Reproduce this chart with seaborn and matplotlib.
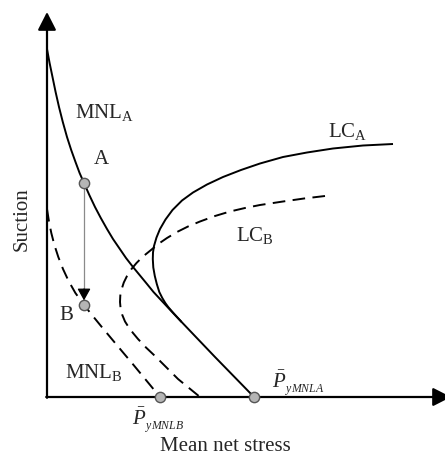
import matplotlib
matplotlib.use("Agg")
import matplotlib.pyplot as plt
import seaborn as sns
import pandas as pd

# ---- data (schematic coordinates) ----
mnl_a_x = [0, 2.6, 5.5, 8.6, 12, 15.8, 20, 24.2, 28.5, 32.6, 37, 42.3, 48, 53.8, 60,
           66, 72.5, 79, 86, 93, 100, 106.5, 113, 120, 127, 147, 168, 187.5, 207]
mnl_a_y = [348, 334, 320, 305, 290, 275, 260, 247, 235, 224, 214, 202, 190, 179, 168,
           158, 148.5, 139, 130, 121.5, 113, 105, 98, 90.5, 83, 62, 40, 20, 0]

lc_a_x = [346, 316, 286, 260, 236, 213, 194, 176, 160, 146, 135, 125.5, 118.5, 113,
          109.5, 107, 106, 105.8, 106.3, 107.8, 109.8, 112.3, 115.3, 118.3, 121.2,
          125.5, 130, 134.6]
lc_a_y = [253, 251.5, 248.5, 244.5, 240, 233.5, 227, 220, 212.5, 204.5, 196.5, 187, 177.5,
          168, 159.5, 151, 144.5, 138, 129.5, 121, 113, 105, 99, 94, 90, 85, 80, 75]

lc_b_x = [278, 257, 236, 213, 198, 183, 168, 153, 141, 130, 120, 112, 104, 96, 89.5,
          84.5, 80, 76.8, 74.7, 73.3, 73, 73.6, 75.3, 78, 81.5, 86, 91, 99, 108, 119.5,
          131, 142, 153]
lc_b_y = [201, 198.5, 195.5, 192, 189, 185.5, 181, 175.5, 170.5, 165, 159, 153.5, 147,
          140.5, 134, 128, 121, 114.5, 108, 101.5, 95, 88.5, 82, 75.5, 70, 64, 58, 49.5,
          41, 29.5, 18, 9, 0]

mnl_b_x = [0, 1.9, 4.3, 7.4, 11.3, 16, 21.6, 28.4, 37, 46.2, 55.6, 65.2, 74.8, 84.5,
           94, 103.5, 113]
mnl_b_y = [188, 176, 164, 152, 140, 128, 116, 104, 92, 80.5, 69, 57.5, 46, 34.5,
           23, 11.5, 0]

point_names = ["A", "B", "PyMNLB", "PyMNLA"]
point_x = [37, 37, 113, 207]
point_y = [214, 92, 0, 0]

x_axis_end = 404
y_axis_end = 385

# ---- style ----
sns.set_theme(style="white")
plt.rcParams["font.family"] = ["Liberation Serif", "DejaVu Serif"]
plt.rcParams["mathtext.fontset"] = "custom"
plt.rcParams["mathtext.rm"] = "Liberation Serif"
plt.rcParams["mathtext.it"] = "Liberation Serif:italic"
plt.rcParams["mathtext.bf"] = "Liberation Serif:bold"

fig = plt.figure(figsize=(4.45, 4.6), dpi=100)
ax = fig.add_axes([0, 0, 1, 1])
ax.set_xlim(-47, 398)
ax.set_ylim(-62, 398)
ax.axis("off")

lw = 1.4
def curve(xs, ys, dashed=False):
    df = pd.DataFrame({"x": xs, "y": ys})
    n0 = len(ax.lines)
    sns.lineplot(data=df, x="x", y="y", sort=False, estimator=None,
                 color="black", lw=lw, ax=ax, legend=False)
    line = ax.lines[n0]
    line.set_solid_capstyle("butt")
    line.set_solid_joinstyle("round")
    if dashed:
        line.set_dashes((6.5, 3.8))
        line.set_dash_capstyle("butt")

curve(mnl_a_x, mnl_a_y)
curve(lc_a_x, lc_a_y)
curve(lc_b_x, lc_b_y, dashed=True)
curve(mnl_b_x, mnl_b_y, dashed=True)

# axes with arrows
head = "-|>,head_length=0.55,head_width=0.28"
ax.annotate("", xy=(0, y_axis_end), xytext=(0, -0.8), annotation_clip=False,
            arrowprops=dict(arrowstyle=head, lw=1.6, color="black", mutation_scale=20,
                            shrinkA=0, shrinkB=0), zorder=3)
ax.annotate("", xy=(x_axis_end, 0), xytext=(-0.8, 0), annotation_clip=False,
            arrowprops=dict(arrowstyle=head, lw=1.6, color="black", mutation_scale=20,
                            shrinkA=0, shrinkB=0), zorder=3)

# A -> B arrow
ax.plot([point_x[0], point_x[1]], [point_y[0] - 5, point_y[1] + 12],
        color="#8a8a8a", lw=0.9, zorder=2)
ax.annotate("", xy=(point_x[1], point_y[1] + 4.5), xytext=(point_x[1], point_y[1] + 16),
            annotation_clip=False,
            arrowprops=dict(arrowstyle="-|>,head_length=0.36,head_width=0.2",
                            lw=0.9, color="black", mutation_scale=20,
                            shrinkA=0, shrinkB=0), zorder=4)

# points
sns.scatterplot(x=point_x, y=point_y, s=55, color="#b5b5b5",
                edgecolor="#555555", linewidth=1.0, ax=ax, zorder=5, legend=False)

fs = 15
ax.text(28, 280, r"MNL$_{\mathrm{A}}$", fontsize=fs, ha="left", va="baseline")
ax.text(54, 238, "A", fontsize=fs, ha="center", va="center")
ax.text(281, 261, r"LC$_{\mathrm{A}}$", fontsize=fs, ha="left", va="baseline")
ax.text(189, 157, r"LC$_{\mathrm{B}}$", fontsize=fs, ha="left", va="baseline")
ax.text(19.5, 83, "B", fontsize=fs, ha="center", va="center")
ax.text(18, 20, r"MNL$_{\mathrm{B}}$", fontsize=fs, ha="left", va="baseline")
# P-bar labels with small italic subscripts
ax.text(85, -27, r"$\bar{P}$", fontsize=fs, ha="left", va="baseline")
ax.text(98, -31, r"$yMNLB$", fontsize=8.5, ha="left", va="baseline")
ax.text(225, 10, r"$\bar{P}$", fontsize=fs, ha="left", va="baseline")
ax.text(238, 6, r"$yMNLA$", fontsize=8.5, ha="left", va="baseline")
ax.text(178, -49, "Mean net stress", fontsize=fs, ha="center", va="center")
ax.text(-25, 179, "Suction", fontsize=fs, ha="center", va="center", rotation=90)

fig.savefig("out.png", dpi=100)
